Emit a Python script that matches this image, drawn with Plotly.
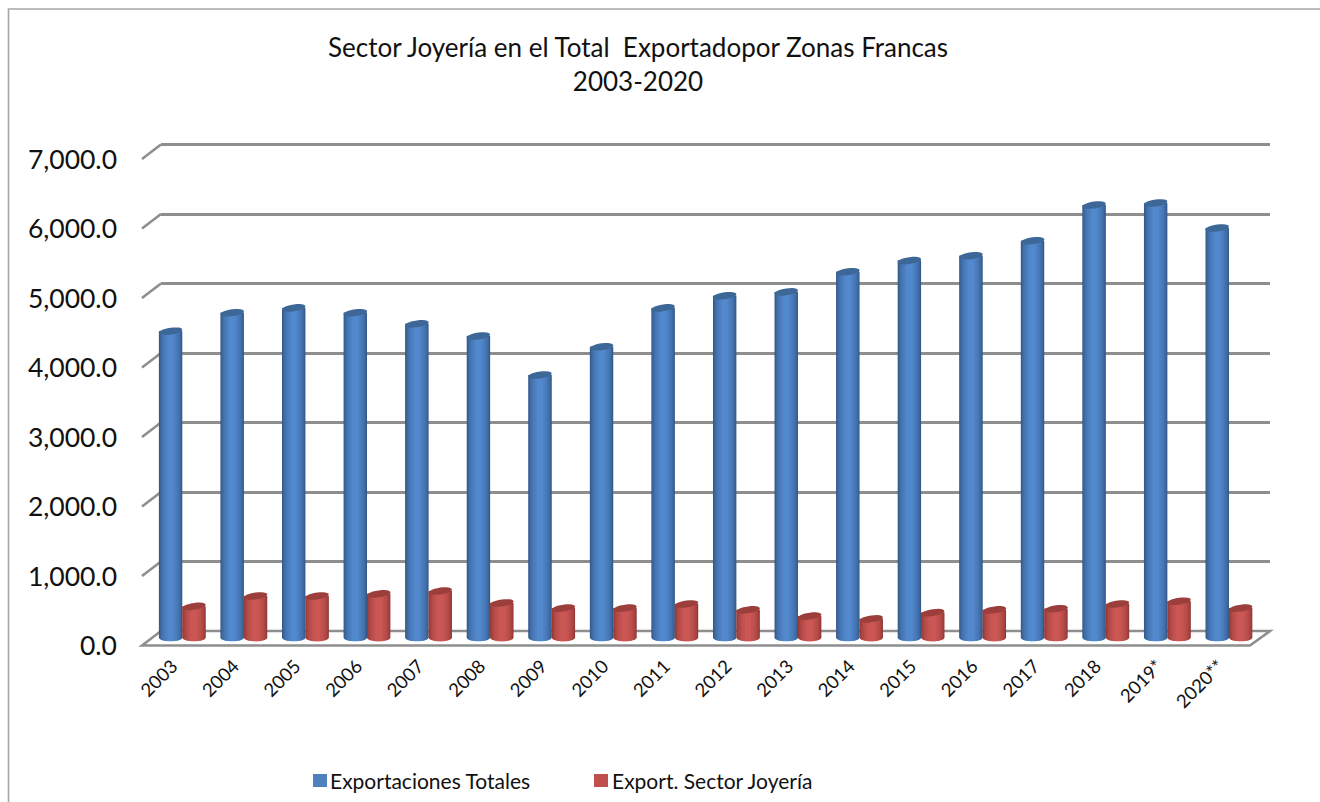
import math
import plotly.graph_objects as go

YEARS = ["2003","2004","2005","2006","2007","2008","2009","2010","2011","2012","2013","2014","2015","2016","2017","2018","2019*","2020**"]
TOTALES = [4415,4680,4750,4680,4520,4345,3785,4190,4750,4925,4980,5270,5430,5500,5715,6230,6260,5900]
JOYERIA = [455,605,605,635,675,505,430,430,490,405,315,275,365,405,420,490,530,430]
TICKS = [0,1000,2000,3000,4000,5000,6000,7000]
TICK_TEXT = ["0.0","1,000.0","2,000.0","3,000.0","4,000.0","5,000.0","6,000.0","7,000.0"]
TITLE = "Sector Joyería en el Total  Exportadopor Zonas Francas<br>2003-2020"
LEGEND_COLORS = ["#4f81bd", "#c0504d"]

W, H = 1320, 802
PX = lambda x: x / W
PY = lambda y: 1 - y / H
SCALE = 0.0695  # px per unit
GRID = "#8e8e8e"
Y_TOP = 7100

BAR_W = 0.38
LAYERS = [1.0, 0.96, 0.9, 0.82, 0.72, 0.6, 0.45, 0.28]
ELL = 50  # ellipse half-height in value units
TILT = 22


def mix(a, b, t):
    return "rgb(%d,%d,%d)" % tuple(a[i] + (b[i] - a[i]) * t for i in range(3))


fig = go.Figure()
# anchors the back-wall subplot so that its gridlines and labels are drawn
fig.add_scatter(x=[0], y=[0], mode="markers", marker=dict(opacity=0), showlegend=False, hoverinfo="skip")


def cylinder(values, centre_off, edge, mid, cap, name):
    n = len(LAYERS)
    for k, f in enumerate(LAYERS):
        drop = ELL * math.sqrt(max(0, 1 - f * f))
        w = BAR_W * f
        fig.add_bar(
            x=list(range(len(values))),
            y=[v + drop for v in values],
            base=[-drop] * len(values),
            width=w,
            offset=centre_off - w / 2,
            marker=dict(color=mix(edge, mid, (k / (n - 1)) ** 0.8), line=dict(width=0)),
            xaxis="x2", yaxis="y2", showlegend=False, hoverinfo="skip",
        )
    for i, v in enumerate(values):
        pts = []
        for a in range(0, 360, 15):
            t = math.radians(a)
            pts.append((i + centre_off + BAR_W / 2 * math.cos(t),
                        v + ELL * math.sin(t) + TILT * math.cos(t)))
        path = "M " + " L ".join(f"{x:.4f} {y:.1f}" for x, y in pts) + " Z"
        fig.add_shape(type="path", path=path, xref="x2", yref="y2",
                      fillcolor=cap, line=dict(width=0), layer="above")
    fig.add_scatter(x=[None], y=[None], mode="markers", name=name,
                    marker=dict(symbol="square", size=14, color="rgba(255,255,255,0)",
                                line=dict(width=0, color="rgba(255,255,255,0)")),
                    xaxis="x2", yaxis="y2")


cylinder(TOTALES, -BAR_W / 2, (48, 84, 130), (82, 136, 204), "#3c6797", "Exportaciones Totales")
cylinder(JOYERIA, BAR_W / 2, (140, 54, 52), (203, 87, 84), "#9c3f3c", "Export. Sector Joyería")

shapes = []
# outer frame
shapes.append(dict(type="path", path=f"M {PX(8.5)} {PY(802)} L {PX(8.5)} {PY(9)} L 1 {PY(9)}",
                   xref="paper", yref="paper", line=dict(color="#a6a6a6", width=1.6), layer="below"))
# side-wall stubs joining each gridline to its front tick
for t in TICKS[1:]:
    by = 631 - t * SCALE
    shapes.append(dict(type="line", xref="paper", yref="paper",
                       x0=PX(142), y0=PY(by + 14.5), x1=PX(161), y1=PY(by),
                       line=dict(color=GRID, width=2.6), layer="below"))
# floor
shapes.append(dict(type="path", xref="paper", yref="paper",
                   path=f"M {PX(142)} {PY(645.5)} L {PX(161)} {PY(631)} L {PX(1270)} {PY(631)} L {PX(1250)} {PY(645.5)} Z",
                   line=dict(color=GRID, width=2.6), layer="below"))
# legend swatches, tight against the legend text as in the source chart
for x0, c in zip((313, 594), LEGEND_COLORS):
    shapes.append(dict(type="rect", xref="paper", yref="paper", x0=PX(x0), x1=PX(x0 + 14),
                       y0=PY(787), y1=PY(774), fillcolor=c, line=dict(width=0), layer="above"))
for s in shapes:
    fig.add_shape(**s)

fig.update_layout(
    width=W, height=H,
    margin=dict(l=0, r=0, t=0, b=0, autoexpand=False),
    paper_bgcolor="white", plot_bgcolor="rgba(0,0,0,0)",
    barmode="overlay",
    font=dict(family="Lato, Carlito, sans-serif", color="black"),
    title=dict(text=TITLE, x=PX(638), xanchor="center", y=1 - 57 / H, yanchor="middle",
               font=dict(size=26, color="#111111")),
    legend=dict(orientation="h", x=PX(300), y=PY(781), xanchor="left", yanchor="middle",
                font=dict(size=21, color="#111111"), entrywidth=247, entrywidthmode="pixels",
                indentation=-10, bgcolor="rgba(0,0,0,0)"),
    # back wall: gridlines and value labels
    xaxis=dict(domain=[PX(161), PX(1270)], range=[0, 1], visible=False, fixedrange=True),
    yaxis=dict(domain=[PY(631), PY(631 - Y_TOP * SCALE)], range=[0, Y_TOP], anchor="x",
               tickmode="array", tickvals=TICKS, ticktext=TICK_TEXT, showgrid=True,
               gridcolor=GRID, gridwidth=2.6, zeroline=False, showline=False, ticks="",
               tickfont=dict(size=26.5, color="#111111"), ticklabelstandoff=43, ticklabelshift=15),
    # bars stand in the middle of the floor
    xaxis2=dict(domain=[PX(151.5), PX(1259.7)], range=[-0.5, 17.5], anchor="y2",
                tickmode="array", tickvals=list(range(len(YEARS))), ticktext=YEARS, tickangle=-45,
                showgrid=False, zeroline=False, showline=False, ticks="",
                tickfont=dict(size=18.5, color="#111111"), ticklabelstandoff=6, ticklabelshift=-10),
    yaxis2=dict(domain=[PY(638 + 100 * SCALE), PY(638 - 7000 * SCALE)], range=[-100, 7000], anchor="x2",
                visible=False, showgrid=False, zeroline=False),
)

fig.write_html("out.html", config=dict(displayModeBar=False),
               post_script="document.body.style.margin='0';document.documentElement.style.overflow='hidden';")
